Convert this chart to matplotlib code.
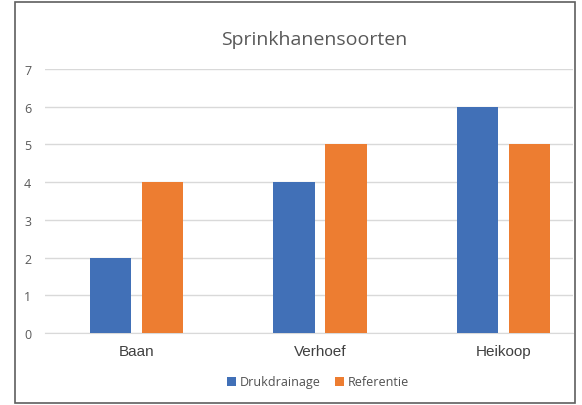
import matplotlib.pyplot as plt
from matplotlib.patches import Rectangle
import numpy as np

categories = ["Baan", "Verhoef", "Heikoop"]
drukdrainage = [2, 4, 6]
referentie = [4, 5, 5]
series_names = ["Drukdrainage", "Referentie"]
y_ticks = [0, 1, 2, 3, 4, 5, 6, 7]

BLUE = "#4170B7"
ORANGE = "#ED7D31"

fig = plt.figure(figsize=(5.82, 4.06), dpi=100)
ax = fig.add_axes([45 / 582, 1 - 334 / 406, (573 - 45) / 582, 264 / 406])

x = np.arange(len(categories))
width = 0.226
offset = 0.142

ax.bar(x - offset, drukdrainage, width, color=BLUE, label=series_names[0], zorder=3)
ax.bar(x + offset, referentie, width, color=ORANGE, label=series_names[1], zorder=3)

ax.set_xlim(-0.5, 2.38)
ax.set_ylim(0, 7)
ax.set_yticks(y_ticks)
ax.set_xticks(x)
ax.set_xticklabels(categories, fontsize=11, color="#404040", family="Liberation Sans")
ax.set_yticklabels([str(t) for t in y_ticks], fontsize=9, color="#595959", family="Open Sans")
ax.tick_params(axis="both", length=0)
ax.tick_params(axis="x", pad=8)
ax.tick_params(axis="y", pad=10)

ax.grid(axis="y", color="#d9d9d9", linewidth=1, zorder=0)
for side in ["top", "right", "left"]:
    ax.spines[side].set_visible(False)
ax.spines["bottom"].set_color("#d9d9d9")

fig.text(314 / 582, 1 - 40 / 406, "Sprinkhanensoorten", ha="center", va="center",
         fontsize=14, color="#595959", family="Open Sans")

fig.legend(loc="center", bbox_to_anchor=(318 / 582, 1 - 383 / 406), ncol=2, frameon=False,
           prop={"family": "Open Sans", "size": 9}, handlelength=0.7, handleheight=0.7,
           handletextpad=0.3, columnspacing=1.2, labelcolor="#505050")

# chart border
fig.patches.append(Rectangle((15 / 582, 1 - 404 / 406), 560 / 582, 401 / 406,
                             transform=fig.transFigure, fill=False,
                             edgecolor="#5f5f5f", linewidth=1.2))

fig.savefig("out.png", dpi=100)
